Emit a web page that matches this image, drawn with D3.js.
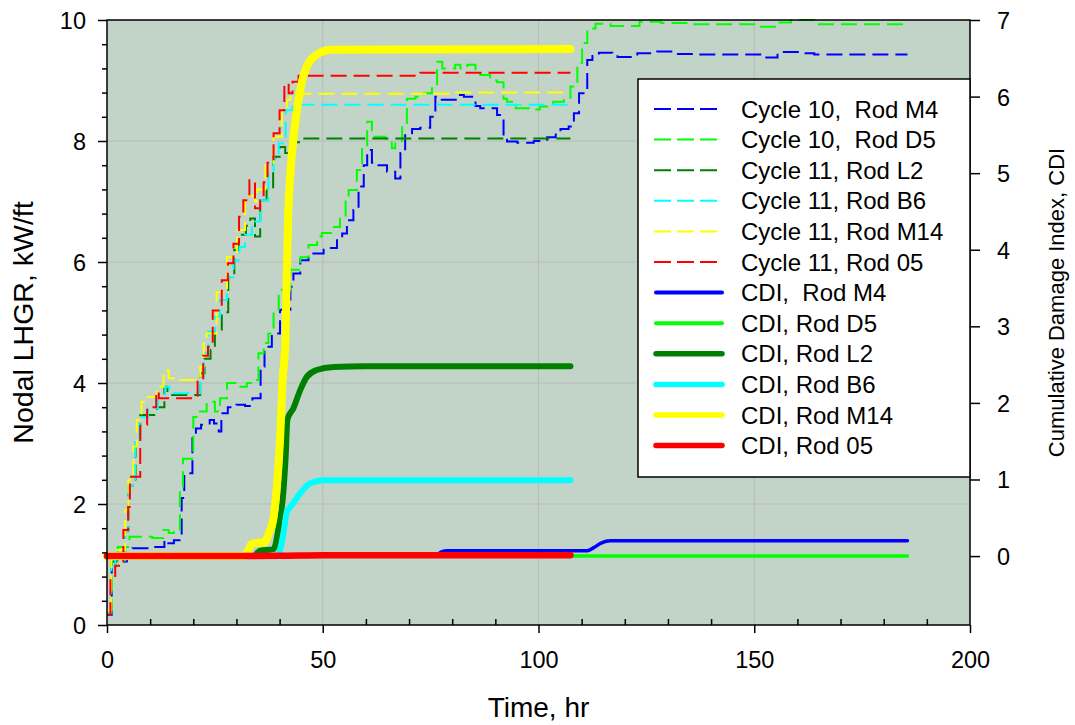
<!DOCTYPE html>
<html>
<head>
<meta charset="utf-8">
<script src="https://cdn.jsdelivr.net/npm/d3@7/dist/d3.min.js"></script>
<style>
  html, body { margin: 0; padding: 0; background: #ffffff; }
  svg { display: block; font-family: "Liberation Sans", Arial, sans-serif; }
</style>
</head>
<body>
<svg id="chart" width="1075" height="725"></svg>
<script>
// ---- Nodal LHGR histories (kW/ft), step-wise in time (hr) ----
const timeM4 = [0, 1.1, 4.6, 5.9, 10, 13.3, 14.2, 15.5, 17.3, 17.9, 19.8, 20.6, 21.8, 23.8, 24.8, 25.9, 26.5, 28, 30, 32, 33.7, 35.6, 36.5, 38.2, 40.1, 42.5, 43.2, 44.8, 46.7, 50.2, 53.3, 54.5, 55.6, 57.1, 58.3, 59.5, 60.3, 61.4, 62.9, 64.9, 66.8, 68, 69.1, 70.7, 72.6, 74.9, 76.1, 77.3, 79.6, 81.1, 82.7, 85.4, 86.5, 90.4, 91.9, 92.7, 95.1, 98.9, 102, 104, 105.1, 107, 108.2, 109.4, 111.3, 112.5, 114, 117.1, 118.3, 121.3, 122.9, 126.7, 127.5, 131.4, 137, 151.9, 155.4, 160.8, 163.9, 185.5];
const lhgrM4 = [0.17, 1.05, 1.1, 1.27, 1.29, 1.4, 1.35, 1.4, 2.1, 2.51, 3.15, 3.25, 3.31, 3.39, 3.33, 3.2, 3.5, 3.6, 3.64, 3.62, 3.75, 4.27, 4.6, 4.82, 5.21, 5.59, 5.81, 6.03, 6.14, 6.23, 6.36, 6.47, 6.69, 6.86, 7.25, 7.6, 7.85, 7.64, 7.6, 7.49, 7.38, 7.8, 8.13, 8.2, 8.22, 8.4, 8.73, 8.68, 8.68, 8.76, 8.73, 8.58, 8.54, 8.43, 8.02, 7.99, 7.97, 8.0, 8.06, 8.13, 8.2, 8.24, 8.46, 8.79, 9.34, 9.42, 9.46, 9.44, 9.39, 9.39, 9.45, 9.46, 9.48, 9.44, 9.43, 9.38, 9.47, 9.45, 9.43, 9.43];

const timeD5 = [0, 1.1, 2.5, 5.2, 10.5, 13.1, 14.3, 15.5, 16.9, 17.6, 20, 21.2, 23.1, 25, 26.2, 27.8, 30.9, 32.4, 34, 35.1, 36.3, 37.4, 38.6, 39.8, 42.5, 44.8, 46.7, 48.7, 49.8, 52.2, 54, 55.3, 56, 57.9, 59.1, 60.3, 61.4, 64.5, 66, 66.8, 68.4, 69.5, 71.5, 73.4, 75.3, 76.5, 77.7, 80.7, 81.9, 83.5, 85.4, 86.5, 88.8, 90.4, 91.9, 92.7, 94.7, 97.8, 100.3, 103.4, 105.9, 107.4, 109, 110.1, 111.3, 113.2, 116.7, 119.5, 123.4, 128.4, 135, 150.8, 155.4, 158.5, 163.9, 185.5];
const lhgrD5 = [0.25, 1.07, 1.29, 1.46, 1.44, 1.57, 1.52, 1.57, 2.29, 2.75, 3.44, 3.53, 3.69, 3.53, 3.75, 4.0, 3.94, 4.0, 4.05, 4.49, 4.66, 4.82, 5.21, 5.54, 5.87, 6.08, 6.28, 6.42, 6.48, 6.58, 6.72, 7.02, 7.19, 7.52, 7.93, 8.32, 8.07, 8.04, 7.88, 8.0, 8.26, 8.7, 8.73, 8.79, 8.87, 9.31, 9.2, 9.26, 9.2, 9.26, 9.15, 9.09, 9.0, 8.97, 8.7, 8.65, 8.54, 8.52, 8.57, 8.65, 8.71, 8.9, 9.29, 9.62, 9.86, 9.94, 9.9, 9.9, 9.97, 9.95, 9.93, 9.89, 9.96, 10.0, 9.93, 9.93];

const timeL2 = [0, 1.0, 1.9, 4.2, 4.95, 6.6, 7.7, 11.6, 13.3, 14.0, 21.6, 22.6, 24.0, 25.0, 26.6, 28.1, 29.5, 30.5, 32.2, 33.2, 34.3, 35.5, 37.0, 38.5, 40.0, 41.3, 42.8, 45.0, 107.4];
const lhgrL2 = [0.2, 0.96, 1.05, 1.55, 2.3, 3.05, 3.47, 3.6, 3.94, 3.8, 4.16, 4.4, 4.55, 4.85, 5.17, 5.75, 6.2, 6.45, 6.6, 6.72, 6.42, 7.02, 7.2, 7.74, 7.9, 7.8, 7.98, 8.04, 8.04];

const timeB6 = [0, 1.0, 1.9, 4.2, 4.95, 6.5, 7.5, 9.5, 11.8, 13.5, 14.5, 21.6, 22.4, 23.5, 25.0, 26.2, 27.8, 29.3, 30.7, 32.0, 33.6, 35.5, 37.4, 38.6, 39.8, 41.4, 43.0, 107.4];
const lhgrB6 = [0.2, 0.96, 1.07, 1.55, 2.3, 3.1, 3.44, 3.58, 3.8, 3.94, 3.83, 4.0, 4.5, 4.85, 5.1, 5.37, 5.75, 6.03, 6.25, 6.45, 6.67, 7.02, 7.46, 7.7, 7.96, 8.51, 8.6, 8.6];

const timeM14 = [0, 1.0, 4.2, 4.95, 6.1, 6.9, 8.0, 9.2, 11.5, 13.1, 14.3, 16.9, 21.6, 22.4, 23.1, 25.4, 27.8, 30.1, 32.0, 34.3, 34.7, 36.7, 38.6, 40.5, 41.7, 42.5, 80, 107.4];
const lhgrM14 = [0.25, 1.24, 1.9, 2.4, 2.95, 3.39, 3.69, 3.77, 3.94, 4.21, 4.08, 4.05, 4.27, 4.71, 4.82, 5.5, 6.08, 6.53, 7.1, 7.0, 7.2, 7.6, 8.07, 8.51, 8.68, 8.78, 8.8, 8.8];

const time05 = [0, 0.8, 1.9, 3.8, 4.9, 5.3, 7.7, 9.3, 11.4, 12.0, 21.0, 22.3, 23.4, 24.5, 26.6, 28.0, 29.3, 30.6, 31.6, 33.0, 34.3, 35.5, 36.3, 37.2, 38.6, 40.0, 41.1, 42.1, 43.0, 44.4, 72.6, 107.4];
const lhgr05 = [0.17, 0.77, 0.98, 1.57, 1.95, 2.45, 3.31, 3.6, 3.86, 3.75, 4.05, 4.45, 4.6, 5.2, 5.7, 5.98, 6.3, 6.75, 7.02, 7.35, 6.89, 7.02, 7.32, 7.64, 8.13, 8.51, 8.95, 8.79, 8.98, 9.08, 9.13, 9.13];

// ---- Cumulative damage index histories ----
const cdiTimeM4 = [0, 76.0, 76.8, 77.8, 78.8, 111.3, 112.8, 114.5, 116.7, 185.5];
const cdiM4 = [0, 0, 0.03, 0.06, 0.07, 0.07, 0.11, 0.17, 0.2, 0.2];

const cdiTimeD5 = [0, 185.5];
const cdiD5 = [0, 0];

const cdiTimeL2 = [0, 34.0, 35.0, 35.5, 38.6, 39.8, 40.9, 41.4, 41.8, 43.2, 44.8, 46.3, 48.6, 52.5, 60, 107.4];
const cdiL2 = [0, 0, 0.05, 0.07, 0.09, 0.38, 0.86, 1.3, 1.78, 1.93, 2.17, 2.34, 2.43, 2.47, 2.48, 2.48];

const cdiTimeB6 = [0, 39.4, 40.2, 40.9, 41.7, 42.5, 44.8, 47.1, 50.2, 60, 107.4];
const cdiB6 = [0, 0, 0.1, 0.3, 0.58, 0.64, 0.82, 0.95, 0.99, 0.99, 0.99];

const cdiTimeM14 = [0, 31.8, 32.6, 33.4, 34.2, 36.5, 37.5, 38.5, 39.3, 40.1, 40.7, 41.3, 42.0, 42.5, 43.2, 44.5, 46.0, 48.7, 52.0, 107.4];
const cdiM14 = [0, 0, 0.06, 0.15, 0.17, 0.18, 0.3, 0.47, 0.86, 1.51, 2.3, 2.75, 4.5, 5.0, 5.45, 6.0, 6.35, 6.55, 6.61, 6.62];

const cdiTime05 = [0, 40, 50, 107.4];
const cdi05 = [0, 0.003, 0.01, 0.01];

// ---- Axis ticks ----
const timeTicks = [0, 50, 100, 150, 200];
const timeMinorTicks = [10, 20, 30, 40, 60, 70, 80, 90, 110, 120, 130, 140, 160, 170, 180, 190];
const lhgrTicks = [0, 2, 4, 6, 8, 10];
const lhgrMinorTicks = [0.4, 0.8, 1.2, 1.6, 2.4, 2.8, 3.2, 3.6, 4.4, 4.8, 5.2, 5.6, 6.4, 6.8, 7.2, 7.6, 8.4, 8.8, 9.2, 9.6];
const cdiTicks = [0, 1, 2, 3, 4, 5, 6, 7];

// ---- Series definitions (legend order) ----
const lhgrSeries = [
  { label: "Cycle 10,  Rod M4", t: timeM4, v: lhgrM4, color: "#0000ff" },
  { label: "Cycle 10,  Rod D5", t: timeD5, v: lhgrD5, color: "#00ff00" },
  { label: "Cycle 11, Rod L2", t: timeL2, v: lhgrL2, color: "#008000" },
  { label: "Cycle 11, Rod B6", t: timeB6, v: lhgrB6, color: "#00ffff" },
  { label: "Cycle 11, Rod M14", t: timeM14, v: lhgrM14, color: "#ffff00" },
  { label: "Cycle 11, Rod 05", t: time05, v: lhgr05, color: "#ff0000" }
];
const cdiSeries = [
  { label: "CDI,  Rod M4", t: cdiTimeM4, v: cdiM4, color: "#0000ff", w: 3.5, lw: 4 },
  { label: "CDI, Rod D5", t: cdiTimeD5, v: cdiD5, color: "#00ff00", w: 3.5, lw: 4 },
  { label: "CDI, Rod L2", t: cdiTimeL2, v: cdiL2, color: "#008000", w: 6, lw: 5.5 },
  { label: "CDI, Rod B6", t: cdiTimeB6, v: cdiB6, color: "#00ffff", w: 6, lw: 5.5 },
  { label: "CDI, Rod M14", t: cdiTimeM14, v: cdiM14, color: "#ffff00", w: 8, lw: 5.5 },
  { label: "CDI, Rod 05", t: cdiTime05, v: cdi05, color: "#ff0000", w: 6.5, lw: 5.5 }
];

// ---- Layout ----
const L = 107, R = 970, T = 20, B = 625;
const svg = d3.select("#chart");

const x = d3.scaleLinear().domain([0, 200]).range([L, R]);
const yL = d3.scaleLinear().domain([0, 10]).range([B, T]);
const yR = d3.scaleLinear().domain([-0.9, 7]).range([B, T]);

// plot background
svg.append("rect").attr("x", L).attr("y", T).attr("width", R - L).attr("height", B - T)
  .attr("fill", "#c2d4c8");

// grid
const grid = svg.append("g").attr("stroke", "#b9bcba").attr("stroke-width", 1);
timeTicks.filter(d => d > 0 && d < 200).forEach(d => {
  grid.append("line").attr("x1", x(d)).attr("x2", x(d)).attr("y1", T).attr("y2", B);
});
lhgrTicks.filter(d => d > 0 && d < 10).forEach(d => {
  grid.append("line").attr("x1", L).attr("x2", R).attr("y1", yL(d)).attr("y2", yL(d));
});

// LHGR step lines
const stepLine = d3.line().curve(d3.curveStepAfter)
  .x(d => x(d[0])).y(d => yL(d[1]));
lhgrSeries.forEach(s => {
  svg.append("path")
    .datum(s.t.map((t, i) => [t, s.v[i]]))
    .attr("d", stepLine)
    .attr("fill", "none")
    .attr("stroke", s.color)
    .attr("stroke-width", 2)
    .attr("stroke-dasharray", "16,7");
});

// CDI curves
const cdiLine = d3.line().curve(d3.curveMonotoneX)
  .x(d => x(d[0])).y(d => yR(d[1]));
cdiSeries.forEach(s => {
  svg.append("path")
    .datum(s.t.map((t, i) => [t, s.v[i]]))
    .attr("d", cdiLine)
    .attr("fill", "none")
    .attr("stroke", s.color)
    .attr("stroke-width", s.w)
    .attr("stroke-linecap", "round")
    .attr("stroke-linejoin", "round");
});

// frame
svg.append("rect").attr("x", L).attr("y", T).attr("width", R - L).attr("height", B - T)
  .attr("fill", "none").attr("stroke", "#000").attr("stroke-width", 1.5);

const tickFont = "23.5px";

// left axis
const gL = svg.append("g").attr("transform", `translate(${L},0)`);
gL.call(d3.axisLeft(yL).tickValues(lhgrTicks).tickSize(9).tickPadding(12).tickFormat(d3.format("d")));
gL.append("g").call(d3.axisLeft(yL).tickValues(lhgrMinorTicks).tickSize(5).tickFormat(""));
gL.selectAll(".domain").remove();
gL.selectAll("line").attr("stroke", "#000").attr("stroke-width", 1.5);
gL.selectAll("text").attr("font-size", tickFont).attr("fill", "#000")
  .attr("font-family", "Liberation Sans, Arial, sans-serif").attr("dy", "0.38em");

// bottom axis
const gB = svg.append("g").attr("transform", `translate(0,${B})`);
gB.call(d3.axisBottom(x).tickValues(timeTicks).tickSize(8).tickPadding(10).tickFormat(d3.format("d")));
gB.append("g").call(d3.axisBottom(x).tickValues(timeMinorTicks).tickSize(-6).tickFormat(""));
gB.selectAll(".domain").remove();
gB.selectAll("line").attr("stroke", "#000").attr("stroke-width", 1.5);
gB.selectAll("text").attr("font-size", tickFont).attr("fill", "#000")
  .attr("font-family", "Liberation Sans, Arial, sans-serif")
  .attr("y", 43).attr("dy", null);

// right axis
const gR = svg.append("g").attr("transform", `translate(${R},0)`);
gR.call(d3.axisRight(yR).tickValues(cdiTicks).tickSize(10).tickPadding(17).tickFormat(d3.format("d")));
gR.selectAll(".domain").remove();
gR.selectAll("line").attr("stroke", "#000").attr("stroke-width", 1.5);
gR.selectAll("text").attr("font-size", tickFont).attr("fill", "#000")
  .attr("font-family", "Liberation Sans, Arial, sans-serif").attr("dy", "0.36em");

// axis titles
svg.append("text")
  .attr("transform", "translate(33,322.5) rotate(-90)")
  .attr("text-anchor", "middle").attr("font-size", "28.5px").attr("fill", "#000")
  .text("Nodal LHGR, kW/ft");
svg.append("text")
  .attr("x", 538.5).attr("y", 717)
  .attr("text-anchor", "middle").attr("font-size", "28px").attr("fill", "#000")
  .text("Time, hr");
svg.append("text")
  .attr("transform", "translate(1064,302.5) rotate(-90)")
  .attr("text-anchor", "middle").attr("font-size", "22px").attr("fill", "#000")
  .text("Cumulative Damage Index, CDI");

// legend
const legend = svg.append("g");
legend.append("rect").attr("x", 638).attr("y", 79).attr("width", R - 638).attr("height", 398)
  .attr("fill", "#ffffff").attr("stroke", "#000").attr("stroke-width", 1.5);
const rowY = i => 109 + i * 30.6;
lhgrSeries.forEach((s, i) => {
  legend.append("line").attr("x1", 654).attr("x2", 717).attr("y1", rowY(i)).attr("y2", rowY(i))
    .attr("stroke", s.color).attr("stroke-width", 2).attr("stroke-dasharray", "17,6");
  legend.append("text").attr("x", 741).attr("y", rowY(i) + 8.6)
    .attr("font-size", "24px").attr("fill", "#000").style("white-space", "pre")
    .text(s.label);
});
cdiSeries.forEach((s, j) => {
  const i = j + 6;
  legend.append("line").attr("x1", 656).attr("x2", 722).attr("y1", rowY(i)).attr("y2", rowY(i))
    .attr("stroke", s.color).attr("stroke-width", s.lw).attr("stroke-linecap", "round");
  legend.append("text").attr("x", 741).attr("y", rowY(i) + 8.6)
    .attr("font-size", "24px").attr("fill", "#000").style("white-space", "pre")
    .text(s.label);
});
</script>
</body>
</html>
